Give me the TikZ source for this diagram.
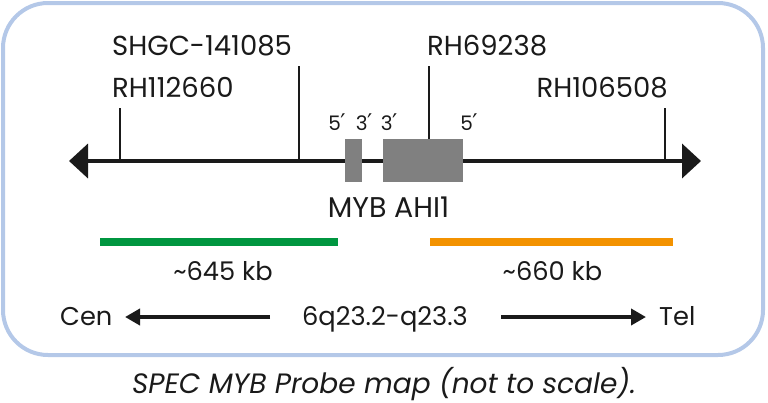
\documentclass[tikz,border=0pt]{standalone}
\usepackage{fontspec}
\setmainfont{Poppins}
\newfontfamily\primefont{DejaVu Sans}
\newcommand{\pr}{{\primefont\fontsize{23}{25}\selectfont\kern-0.5pt′}}
\usetikzlibrary{arrows.meta}
\definecolor{framec}{RGB}{180,200,232}
\definecolor{gbar}{RGB}{0,150,64}
\definecolor{obar}{RGB}{243,146,0}
\definecolor{genec}{RGB}{128,128,128}
\definecolor{ink}{RGB}{26,26,26}
\begin{document}
\begin{tikzpicture}[x=1pt,y=-1pt,
  lbl/.style={inner sep=0pt, font=\fontsize{27.5}{30}\selectfont, text=ink},
  klbl/.style={lbl, font=\fontsize{25.7}{28}\selectfont},
  plbl/.style={inner sep=0pt, font=\fontsize{20}{22}\selectfont, text=ink},
  tick/.style={line width=2pt, draw=ink},
  genebox/.style={fill=genec, draw=none, inner sep=0pt, minimum height=43pt},
  mainline/.style={line width=4pt, draw=ink, {Triangle[length=19pt,width=34pt]}-{Triangle[length=19pt,width=34pt]}},
  dirarrow/.style={line width=4pt, draw=ink, -{Triangle[length=15pt,width=16pt]}},
  bar/.style={line width=8pt}
]
\useasboundingbox (0,0) rectangle (768,402);
\draw[framec, line width=4pt, rounded corners=45pt] (3,3) rectangle (763,355);

% main chromosome line
\coordinate (L) at (69,161);
\coordinate (R) at (701,161);
\draw[mainline] (L) -- (R);

% genes
\node[genebox, minimum width=17pt] (myb) at (353.5,160.5) {};
\node[genebox, minimum width=80pt] (ahi) at (423,160.5) {};

% markers
\coordinate (t1) at (120,108);
\coordinate (t2) at (299,66);
\coordinate (t3) at (429,66);
\coordinate (t4) at (665,108);
\draw[tick] (t1) -- (t1 |- L);
\draw[tick] (t2) -- (t2 |- L);
\draw[tick] (t3) -- (t3 |- ahi.north);
\draw[tick] (t4) -- (t4 |- L);

\node[lbl, anchor=base west] (shgc) at (112,55) {SHGC-141085};
\node[lbl, anchor=base west] (rh1) at (112,97) {RH112660};
\node[lbl, anchor=base west] (rh6) at (427,55) {RH69238};
\node[lbl, anchor=base east] (rh10) at (668,97) {RH106508};

% orientation labels
\node[plbl, anchor=base] (p1) at (337,130) {5\pr};
\node[plbl, anchor=base] (p2) at (364,130) {3\pr};
\node[plbl, anchor=base] (p3) at (389,130) {3\pr};
\node[plbl, anchor=base] (p4) at (469,130) {5\pr};

\node[lbl, font=\fontsize{28.5}{30}\selectfont, anchor=base] (genes) at (388.5,217) {MYB AHI1};

% probe bars
\coordinate (g1) at (100,242);
\coordinate (g2) at (338,242);
\coordinate (o1) at (430,242);
\coordinate (o2) at (673,242);
\draw[bar, gbar] (g1) -- (g2);
\draw[bar, obar] (o1) -- (o2);
\node[klbl, anchor=base] (k1) at (223,280) {\textasciitilde 645 kb};
\node[klbl, anchor=base] (k2) at (552.5,280) {\textasciitilde 660 kb};

% bottom row
\node[klbl, anchor=base west] (cen) at (60,325) {Cen};
\node[klbl, anchor=base] (band) at (385,325) {6q23.2-q23.3};
\node[klbl, anchor=base west] (tel) at (659,325) {Tel};
\coordinate (la) at (270,317);
\coordinate (lt) at (125,317);
\coordinate (ra) at (501,317);
\coordinate (rt) at (646,317);
\draw[dirarrow] (la) -- (lt);
\draw[dirarrow] (ra) -- (rt);

% caption
\node[lbl, anchor=base, font=\fontsize{28}{30}\selectfont\itshape] (cap) at (384,393) {SPEC MYB Probe map (not to scale).};
\end{tikzpicture}
\end{document}
